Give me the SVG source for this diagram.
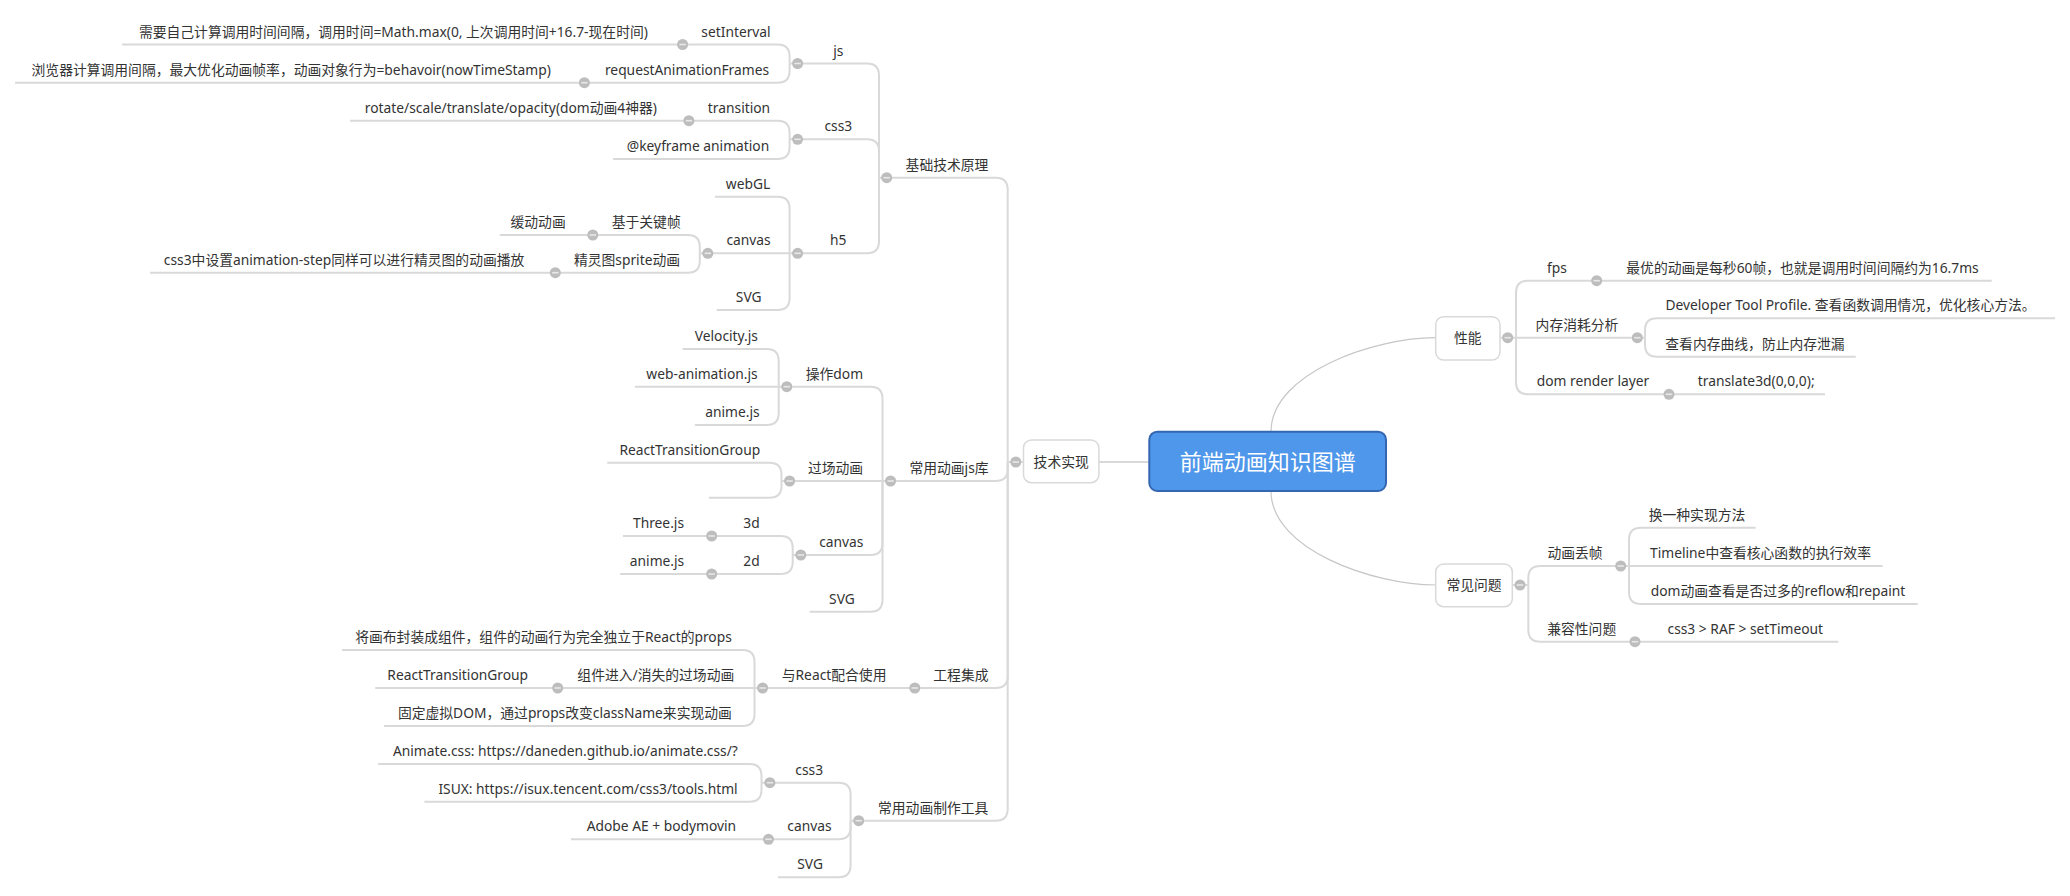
<svg xmlns="http://www.w3.org/2000/svg" xmlns:xlink="http://www.w3.org/1999/xlink" width="2070" height="896" viewBox="0 0 2070 896">
<style>
.t{font-family:"Noto Sans","Noto Sans CJK SC",sans-serif;font-size:13.8px;fill:#333;text-anchor:middle}
.ln{fill:none;stroke:#d9d9d9;stroke-width:2}
.cv{fill:none;stroke:#c6c6c6;stroke-width:1.2}
.box{fill:#fff;stroke:#d9d9d9;stroke-width:1.5}
.root{fill:#4f97ea;stroke:#3566b1;stroke-width:2}
.rt{font-family:"Noto Sans CJK SC",sans-serif;font-size:22px;fill:#fff;text-anchor:middle}
</style>
<defs>
<g id="col"><circle r="5.5" fill="#bdbdbd"/><line x1="-3.2" x2="3.2" y1="0" y2="0" stroke="#e8e8e8" stroke-width="1.6"/></g>
</defs>
<rect width="2070" height="896" fill="#fff"/>
<g id="connectors">
<path class="cv" d="M1271,431.7 C1271,373 1374,337.7 1435.7,337.7"/>
<path class="cv" d="M1271,491 C1271,550 1374,585 1435.7,585"/>
<path class="ln" d="M1098.9,462 H1149.3"/>
<path class="ln" d="M1007.7,462 H1023.5"/>
<path class="ln" d="M879,177.7 H995.7 Q1007.7,177.7 1007.7,189.7 V462"/>
<path class="ln" d="M882.5,481 H995.7 Q1007.7,481 1007.7,469 V462"/>
<path class="ln" d="M754.5,688 H995.7 Q1007.7,688 1007.7,676 V462"/>
<path class="ln" d="M850.6,820.7 H995.7 Q1007.7,820.7 1007.7,808.7 V462"/>
<path class="ln" d="M789.6,63.5 H867 Q879,63.5 879,75.5 V177.7"/>
<path class="ln" d="M789.6,139.3 H867 Q879,139.3 879,151.3 V177.7"/>
<path class="ln" d="M789.6,253.3 H867 Q879,253.3 879,241.3 V177.7"/>
<path class="ln" d="M682.6,44.5 H777.6 Q789.6,44.5 789.6,56.5 V63.5"/>
<path class="ln" d="M584.4,82.7 H777.6 Q789.6,82.7 789.6,70.7 V63.5"/>
<path class="ln" d="M122.1,44.5 H682.6"/>
<path class="ln" d="M15.1,82.7 H584.4"/>
<path class="ln" d="M688.9,120.7 H777.6 Q789.6,120.7 789.6,132.7 V139.3"/>
<path class="ln" d="M613.1,159 H777.6 Q789.6,159 789.6,147 V139.3"/>
<path class="ln" d="M350.1,120.7 H688.9"/>
<path class="ln" d="M714.9,196.7 H777.6 Q789.6,196.7 789.6,208.7 V253.3"/>
<path class="ln" d="M699.8,253.3 H789.6"/>
<path class="ln" d="M716.6,310 H777.6 Q789.6,310 789.6,298 V253.3"/>
<path class="ln" d="M592.8,235 H687.8 Q699.8,235 699.8,247 V253.3"/>
<path class="ln" d="M555.3,272.7 H687.8 Q699.8,272.7 699.8,260.7 V253.3"/>
<path class="ln" d="M499.8,235 H592.8"/>
<path class="ln" d="M150.1,272.7 H555.3"/>
<path class="ln" d="M778.7,386.7 H870.5 Q882.5,386.7 882.5,398.7 V481"/>
<path class="ln" d="M781.5,481 H882.5"/>
<path class="ln" d="M792.7,555 H870.5 Q882.5,555 882.5,543 V481"/>
<path class="ln" d="M809.6,611.7 H870.5 Q882.5,611.7 882.5,599.7 V481"/>
<path class="ln" d="M682.6,349 H766.7 Q778.7,349 778.7,361 V386.7"/>
<path class="ln" d="M634.9,386.7 H778.7"/>
<path class="ln" d="M694.9,425 H766.7 Q778.7,425 778.7,413 V386.7"/>
<path class="ln" d="M607.2,462.7 H769.5 Q781.5,462.7 781.5,474.7 V481"/>
<path class="ln" d="M708.9,497.7 H769.5 Q781.5,497.7 781.5,485.7 V481"/>
<path class="ln" d="M711.7,536 H780.7 Q792.7,536 792.7,548 V555"/>
<path class="ln" d="M711.7,574 H780.7 Q792.7,574 792.7,562 V555"/>
<path class="ln" d="M623,536 H711.7"/>
<path class="ln" d="M620.2,574 H711.7"/>
<path class="ln" d="M342,650 H742.5 Q754.5,650 754.5,662 V688"/>
<path class="ln" d="M557.7,688 H754.5"/>
<path class="ln" d="M384.1,726 H742.5 Q754.5,726 754.5,714 V688"/>
<path class="ln" d="M375.3,688 H557.7"/>
<path class="ln" d="M761.5,782.7 H838.6 Q850.6,782.7 850.6,794.7 V820.7"/>
<path class="ln" d="M768.5,839.3 H838.6 Q850.6,839.3 850.6,827.3 V820.7"/>
<path class="ln" d="M778,877.3 H838.6 Q850.6,877.3 850.6,865.3 V820.7"/>
<path class="ln" d="M378.1,764 H749.5 Q761.5,764 761.5,776 V782.7"/>
<path class="ln" d="M424.4,801.7 H749.5 Q761.5,801.7 761.5,789.7 V782.7"/>
<path class="ln" d="M571,839.3 H768.5"/>
<path class="ln" d="M1500,337.7 H1516"/>
<path class="ln" d="M1596.7,280.7 H1528 Q1516,280.7 1516,292.7 V337.7"/>
<path class="ln" d="M1645,337.7 H1516"/>
<path class="ln" d="M1669,394.3 H1528 Q1516,394.3 1516,382.3 V337.7"/>
<path class="ln" d="M1596.7,280.7 H1991.7"/>
<path class="ln" d="M2055,318.3 H1657 Q1645,318.3 1645,330.3 V337.7"/>
<path class="ln" d="M1855.7,356.7 H1657 Q1645,356.7 1645,344.7 V337.7"/>
<path class="ln" d="M1669,394.3 H1825"/>
<path class="ln" d="M1512.3,585 H1528.3"/>
<path class="ln" d="M1629,566 H1540.3 Q1528.3,566 1528.3,578 V585"/>
<path class="ln" d="M1635,641.7 H1540.3 Q1528.3,641.7 1528.3,629.7 V585"/>
<path class="ln" d="M1755.7,527.7 H1641 Q1629,527.7 1629,539.7 V566"/>
<path class="ln" d="M1882.7,566 H1629"/>
<path class="ln" d="M1917.7,604 H1641 Q1629,604 1629,592 V566"/>
<path class="ln" d="M1635,641.7 H1838.3"/>
</g>
<g id="root"><rect class="root" x="1149.3" y="431.7" width="236.7" height="59.3" rx="8"/><text class="rt" x="1267.7" y="469.5">前端动画知识图谱</text></g>
<g id="n-jishu"><rect class="box" x="1023.5" y="440" width="75.4" height="42.7" rx="8"/><text class="t" x="1061.2" y="466.5">技术实现</text><use xlink:href="#col" x="1015.8" y="462"/></g>
<g id="n-xingneng"><rect class="box" x="1435.7" y="316.7" width="64.3" height="43.3" rx="8"/><text class="t" x="1467.8" y="343">性能</text><use xlink:href="#col" x="1507.7" y="337.7"/></g>
<g id="n-wenti"><rect class="box" x="1435.7" y="564" width="76.6" height="42.7" rx="8"/><text class="t" x="1474" y="590">常见问题</text><use xlink:href="#col" x="1520" y="585"/></g>
<g id="n-A"><text class="t" x="947" y="169.7">基础技术原理</text><use xlink:href="#col" x="886.7" y="177.7"/></g>
<g id="n-B"><text class="t" x="949" y="473">常用动画js库</text><use xlink:href="#col" x="890.6" y="481"/></g>
<g id="n-C"><text class="t" x="960.9" y="680">工程集成</text><use xlink:href="#col" x="914.8" y="688"/></g>
<g id="n-D"><text class="t" x="933.2" y="812.7">常用动画制作工具</text><use xlink:href="#col" x="858.7" y="820.7"/></g>
<g id="n-A1"><text class="t" x="838.3" y="55.5">js</text><use xlink:href="#col" x="797.6" y="63.5"/></g>
<g id="n-A1a"><text class="t" x="736" y="36.5">setInterval</text><use xlink:href="#col" x="682.6" y="44.5"/></g>
<g id="n-A1a-l"><text class="t" x="393.4" y="36.5">需要自己计算调用时间间隔，调用时间=Math.max(0, 上次调用时间+16.7-现在时间)</text></g>
<g id="n-A1b"><text class="t" x="687" y="74.7">requestAnimationFrames</text><use xlink:href="#col" x="584.4" y="82.7"/></g>
<g id="n-A1b-l"><text class="t" x="291.2" y="74.7">浏览器计算调用间隔，最大优化动画帧率，动画对象行为=behavoir(nowTimeStamp)</text></g>
<g id="n-A2"><text class="t" x="838.3" y="131.3">css3</text><use xlink:href="#col" x="797.6" y="139.3"/></g>
<g id="n-A2a"><text class="t" x="739" y="112.7">transition</text><use xlink:href="#col" x="688.9" y="120.7"/></g>
<g id="n-A2a-l"><text class="t" x="510.9" y="112.7">rotate/scale/translate/opacity(dom动画4神器)</text></g>
<g id="n-A2b"><text class="t" x="698" y="151">@keyframe animation</text></g>
<g id="n-A3"><text class="t" x="838.3" y="245.3">h5</text><use xlink:href="#col" x="797.6" y="253.3"/></g>
<g id="n-A3a"><text class="t" x="748" y="188.7">webGL</text></g>
<g id="n-A3b"><text class="t" x="748.5" y="245.3">canvas</text><use xlink:href="#col" x="707.8" y="253.3"/></g>
<g id="n-A3b1"><text class="t" x="646.2" y="227">基于关键帧</text><use xlink:href="#col" x="592.8" y="235"/></g>
<g id="n-A3b1-l"><text class="t" x="538.1" y="227">缓动动画</text></g>
<g id="n-A3b2"><text class="t" x="627" y="264.7">精灵图sprite动画</text><use xlink:href="#col" x="555.3" y="272.7"/></g>
<g id="n-A3b2-l"><text class="t" x="344.1" y="264.7">css3中设置animation-step同样可以进行精灵图的动画播放</text></g>
<g id="n-A3c"><text class="t" x="748.7" y="302">SVG</text></g>
<g id="n-B1"><text class="t" x="834.4" y="378.7">操作dom</text><use xlink:href="#col" x="786.8" y="386.7"/></g>
<g id="n-B1a"><text class="t" x="726.3" y="341">Velocity.js</text></g>
<g id="n-B1b"><text class="t" x="702" y="378.7">web-animation.js</text></g>
<g id="n-B1c"><text class="t" x="732.4" y="417">anime.js</text></g>
<g id="n-B2"><text class="t" x="835.5" y="473">过场动画</text><use xlink:href="#col" x="789.6" y="481"/></g>
<g id="n-B2a"><text class="t" x="689.8" y="454.7">ReactTransitionGroup</text></g>
<g id="n-B3"><text class="t" x="841.3" y="547">canvas</text><use xlink:href="#col" x="800.8" y="555"/></g>
<g id="n-B3a"><text class="t" x="751.5" y="528">3d</text><use xlink:href="#col" x="711.7" y="536"/></g>
<g id="n-B3a-l"><text class="t" x="658.5" y="528">Three.js</text></g>
<g id="n-B3b"><text class="t" x="751.5" y="566">2d</text><use xlink:href="#col" x="711.7" y="574"/></g>
<g id="n-B3b-l"><text class="t" x="657" y="566">anime.js</text></g>
<g id="n-B4"><text class="t" x="842" y="603.7">SVG</text></g>
<g id="n-C1"><text class="t" x="834.1" y="680">与React配合使用</text><use xlink:href="#col" x="762.6" y="688"/></g>
<g id="n-C1a"><text class="t" x="543.5" y="642">将画布封装成组件，组件的动画行为完全独立于React的props</text></g>
<g id="n-C1b"><text class="t" x="655.8" y="680">组件进入/消失的过场动画</text><use xlink:href="#col" x="557.7" y="688"/></g>
<g id="n-C1b-l"><text class="t" x="457.7" y="680">ReactTransitionGroup</text></g>
<g id="n-C1c"><text class="t" x="564.9" y="718">固定虚拟DOM，通过props改变className来实现动画</text></g>
<g id="n-D1"><text class="t" x="809.2" y="774.7">css3</text><use xlink:href="#col" x="769.9" y="782.7"/></g>
<g id="n-D1a"><text class="t" x="565.4" y="756">Animate.css: https://daneden.github.io/animate.css/?</text></g>
<g id="n-D1b"><text class="t" x="588" y="793.7">ISUX: https://isux.tencent.com/css3/tools.html</text></g>
<g id="n-D2"><text class="t" x="809.4" y="831.3">canvas</text><use xlink:href="#col" x="768.5" y="839.3"/></g>
<g id="n-D2-l"><text class="t" x="661.4" y="831.3">Adobe AE + bodymovin</text></g>
<g id="n-D3"><text class="t" x="810.1" y="869.3">SVG</text></g>
<g id="n-P1"><text class="t" x="1557" y="272.7">fps</text><use xlink:href="#col" x="1596.7" y="280.7"/></g>
<g id="n-P1-l"><text class="t" x="1802.5" y="272.7">最优的动画是每秒60帧，也就是调用时间间隔约为16.7ms</text></g>
<g id="n-P2"><text class="t" x="1577" y="329.7">内存消耗分析</text><use xlink:href="#col" x="1637.3" y="337.7"/></g>
<g id="n-P2a"><text class="t" x="1850.5" y="310.3">Developer Tool Profile. 查看函数调用情况，优化核心方法。</text></g>
<g id="n-P2b"><text class="t" x="1755" y="348.7">查看内存曲线，防止内存泄漏</text></g>
<g id="n-P3"><text class="t" x="1593" y="386.3">dom render layer</text><use xlink:href="#col" x="1669" y="394.3"/></g>
<g id="n-P3-l"><text class="t" x="1756.2" y="386.3">translate3d(0,0,0);</text></g>
<g id="n-Q1"><text class="t" x="1575" y="558">动画丢帧</text><use xlink:href="#col" x="1620.7" y="566"/></g>
<g id="n-Q1a"><text class="t" x="1697" y="519.7">换一种实现方法</text></g>
<g id="n-Q1b"><text class="t" x="1760.5" y="558">Timeline中查看核心函数的执行效率</text></g>
<g id="n-Q1c"><text class="t" x="1778" y="596">dom动画查看是否过多的reflow和repaint</text></g>
<g id="n-Q2"><text class="t" x="1581.7" y="633.7">兼容性问题</text><use xlink:href="#col" x="1635" y="641.7"/></g>
<g id="n-Q2-l"><text class="t" x="1745.3" y="633.7">css3 &gt; RAF &gt; setTimeout</text></g>
</svg>
